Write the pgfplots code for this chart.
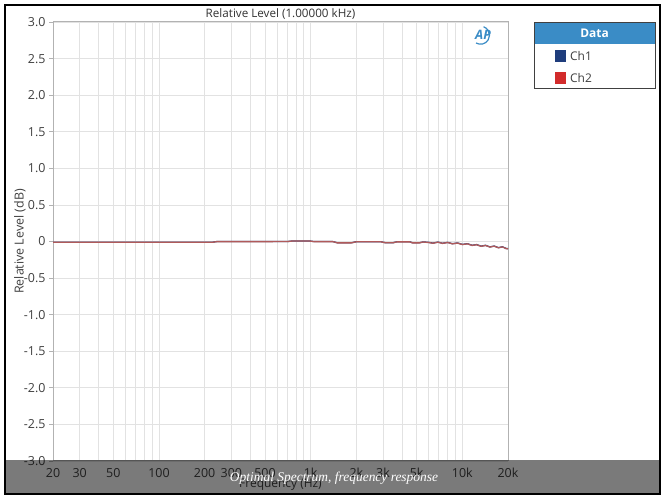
\documentclass[border=0pt]{standalone}
\usepackage{fontspec}
\setmainfont{Open Sans}
\newfontfamily\capfont{Liberation Serif}
\usepackage{pgfplots}
\usepackage{pgfplotstable}
\pgfplotsset{compat=1.18}

\definecolor{apblue}{HTML}{1F3D7C}
\definecolor{apred}{HTML}{D22B2B}
\definecolor{hdrblue}{HTML}{3A8CC6}
\definecolor{gridgray}{HTML}{E2E2E2}
\definecolor{txtgray}{HTML}{404040}
\definecolor{linered}{HTML}{B05A5A}

% frequency (Hz) and relative level (dB)
\pgfplotstableread{
f      db
20     -0.010
50     -0.010
100    -0.010
200    -0.010
225    -0.010
240    -0.001
400    -0.001
700    -0.001
760     0.008
980     0.008
1050   -0.001
1400   -0.001
1500   -0.018
1850   -0.018
2000   -0.003
2900   -0.003
3100   -0.016
3500   -0.016
3700   -0.004
4500   -0.004
4700   -0.018
5200   -0.018
5500   -0.006
6000   -0.012
6400   -0.022
6900   -0.008
7400   -0.024
8000   -0.012
8600   -0.030
9300   -0.020
10000  -0.040
10800  -0.030
11600  -0.052
12400  -0.042
13300  -0.064
14200  -0.052
15200  -0.074
16200  -0.062
17300  -0.084
18400  -0.072
19400  -0.095
20000  -0.098
}\chA

\pgfplotstableread{
f      db
20     -0.011
50     -0.011
100    -0.010
200    -0.011
225    -0.011
240    -0.002
400    -0.002
700    -0.001
760     0.007
980     0.007
1050   -0.002
1400   -0.002
1500   -0.019
1850   -0.019
2000   -0.004
2900   -0.004
3100   -0.017
3500   -0.017
3700   -0.005
4500   -0.005
4700   -0.019
5200   -0.019
5500   -0.007
6000   -0.014
6400   -0.024
6900   -0.010
7400   -0.026
8000   -0.014
8600   -0.032
9300   -0.022
10000  -0.042
10800  -0.032
11600  -0.054
12400  -0.044
13300  -0.066
14200  -0.054
15200  -0.076
16200  -0.064
17300  -0.086
18400  -0.074
19400  -0.097
20000  -0.100
}\chB

\begin{document}
\begin{tikzpicture}
\useasboundingbox (0bp,0bp) rectangle (666bp,498bp);
\fill[white] (0bp,0bp) rectangle (666bp,498bp);

\begin{axis}[
    at={(53bp,37bp)}, anchor=south west,
    scale only axis, width=455bp, height=439bp,
    xmode=log, xmin=20, xmax=20000, ymin=-3, ymax=3,
    xtick={20,30,50,100,200,300,500,1000,2000,3000,5000,10000,20000},
    xticklabels={20,30,50,100,200,300,500,1k,2k,3k,5k,10k,20k},
    minor xtick={40,60,70,80,90,400,600,700,800,900,4000,6000,7000,8000,9000},
    ytick={-3,-2.5,...,3},
    yticklabels={-3.0,-2.5,-2.0,-1.5,-1.0,-0.5,0,0.5,1.0,1.5,2.0,2.5,3.0},
    grid=both,
    major grid style={gridgray, line width=0.8bp},
    minor grid style={gridgray, line width=0.8bp},
    axis line style={gray!60, line width=1bp},
    xtick pos=bottom, ytick pos=left,
    xtick style={draw=none},
    ytick style={gray!60, line width=0.8bp},
    major tick length=4bp,
    tick align=outside,
    /pgf/number format/assume math mode=true,
    tick label style={font=\fontsize{12.5}{14}\selectfont, text=txtgray},
    title={Relative Level (1.00000 kHz)},
    title style={font=\fontsize{11.7}{13}\selectfont, text=black!80, at={(axis description cs:0.5,1)}, anchor=south, yshift=-7bp},
    xlabel={Frequency (Hz)},
    xlabel style={font=\fontsize{12}{13}\selectfont, text=txtgray, at={(axis description cs:0.5,0)}, anchor=center, yshift=-24bp},
    ylabel={Relative Level (dB)},
    ylabel style={font=\fontsize{12.5}{14}\selectfont, text=txtgray, at={(axis description cs:0,0.5)}, anchor=center, yshift=33bp},
]
\addplot[apblue, line width=1.3bp] table[x=f, y=db] {\chA};
\addplot[linered, line width=1.3bp] table[x=f, y=db] {\chB};
\end{axis}

\begin{scope}[x=1bp, y=1bp]
% AP logo
\node[text=hdrblue, font=\fontsize{13}{14}\selectfont\bfseries\itshape] at (483,463) {AP};
\draw[hdrblue, line width=1.2bp] (476,455) arc[start angle=-120, end angle=70, radius=9];

% legend
\fill[white] (534,409) rectangle (655,475);
\fill[hdrblue] (534,454) rectangle (655,475);
\draw[black!75, line width=1bp] (534,409) rectangle (655,475);
\node[text=white, font=\fontsize{12}{14}\selectfont\bfseries] at (594.5,464.5) {Data};
\fill[apblue] (555,436) rectangle (566,448);
\node[anchor=west, text=txtgray, font=\fontsize{12}{14}\selectfont, inner sep=0pt] at (570,442) {Ch1};
\fill[apred] (555,414) rectangle (566,426);
\node[anchor=west, text=txtgray, font=\fontsize{12}{14}\selectfont, inner sep=0pt] at (570,420) {Ch2};

% caption banner
\fill[black, opacity=0.52] (5,4) rectangle (660,38);
\node[text=white, font=\capfont\itshape\fontsize{13.5}{15}\selectfont] at (334,20) {Optimal Spectrum, frequency response};

% outer frame
\draw[black, line width=1.5bp] (5,4) rectangle (660,493);
\end{scope}
\end{tikzpicture}
\end{document}
